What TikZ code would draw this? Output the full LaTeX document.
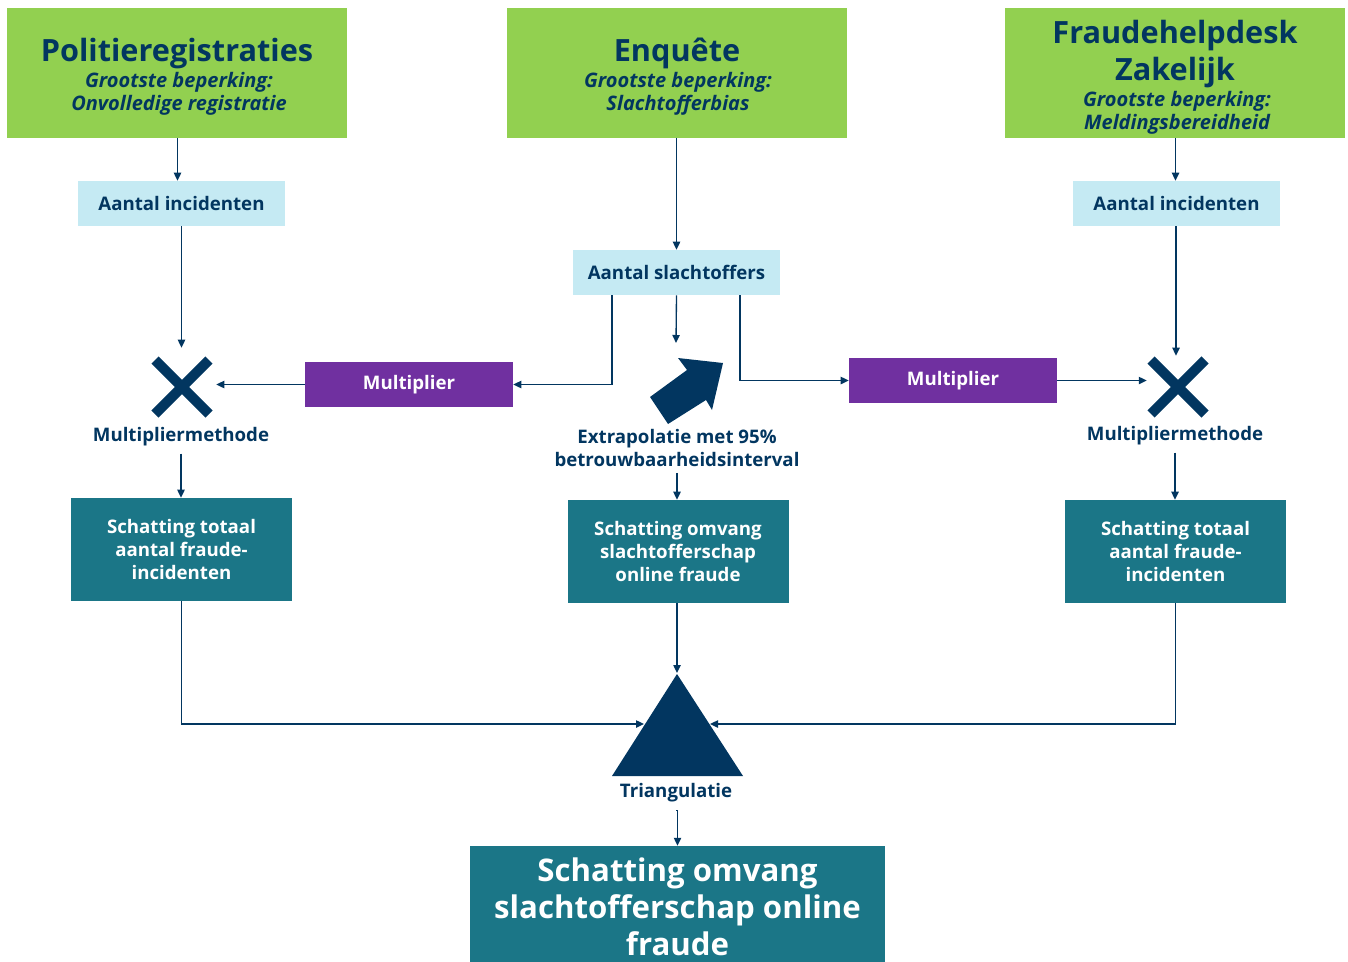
\documentclass[tikz,border=0pt]{standalone}
\usepackage{fontspec}
\setmainfont{Open Sans}
\usetikzlibrary{arrows.meta,calc}
\definecolor{navy}{RGB}{2,54,96}
\definecolor{lgreen}{RGB}{146,208,80}
\definecolor{lblue}{RGB}{197,234,243}
\definecolor{mpurple}{RGB}{112,48,160}
\definecolor{mteal}{RGB}{27,118,135}
\newcommand{\fs}[2]{\fontsize{#1}{#2}\selectfont}
\tikzset{
  greenbox/.style={fill=lgreen,draw=none,minimum width=255pt,minimum height=97.5pt,inner sep=0pt},
  bluebox/.style={fill=lblue,draw=none,minimum width=155.25pt,minimum height=33.75pt,inner sep=0pt,text=navy,font=\bfseries\fs{14}{16}},
  purplebox/.style={fill=mpurple,draw=none,minimum width=156pt,minimum height=33.75pt,inner sep=0pt,text=white,font=\bfseries\fs{14}{16}},
  tealbox/.style={fill=mteal,draw=none,minimum width=165.75pt,minimum height=77.25pt,inner sep=0pt,text=white,align=center,font=\bfseries\fs{14}{17.25}},
  titletext/.style={anchor=base,text=navy,font=\bfseries\fs{23}{27.75},inner sep=0pt},
  subtext/.style={anchor=base,text=navy,font=\bfseries\itshape\fs{15}{17},inner sep=0pt},
  labeltext/.style={text=navy,font=\bfseries\fs{14}{17.25},align=center,inner sep=0pt},
  arr/.style={draw=navy,line width=1pt,-{Triangle[length=6pt,width=5.5pt]}},
  xmark/.style={draw=navy,line width=7.5pt},
}
\begin{document}
\begin{tikzpicture}[x=0.75pt,y=-0.75pt]
\useasboundingbox (0,0) rectangle (1348,961);
% green source boxes
\node[greenbox] (g1) at (177,73) {};
\node[greenbox] (g2) at (677,73) {};
\node[greenbox] (g3) at (1175,73) {};
\node[titletext] (g1t) at (177,61) {Politieregistraties};
\node[subtext] (g1s1) at (179,87) {Grootste beperking:};
\node[subtext] (g1s2) at (179,110) {Onvolledige registratie};
\node[titletext] (g2t) at (677,61) {Enquête};
\node[subtext] (g2s1) at (678,87) {Grootste beperking:};
\node[subtext] (g2s2) at (678,110) {Slachtofferbias};
\node[titletext] (g3t1) at (1175,43) {Fraudehelpdesk};
\node[titletext] (g3t2) at (1175,80) {Zakelijk};
\node[subtext] (g3s1) at (1177,106) {Grootste beperking:};
\node[subtext] (g3s2) at (1177,129) {Meldingsbereidheid};
% light blue boxes
\node[bluebox] (lb1) at (181.5,203.5) {Aantal incidenten};
\node[bluebox] (lb2) at (676.5,272.5) {Aantal slachtoffers};
\node[bluebox] (lb3) at (1176.5,203.5) {Aantal incidenten};
% purple
\node[purplebox] (mp1) at (409,384.5) {Multiplier};
\node[purplebox] (mp2) at (953,380.5) {Multiplier};
% X marks
\node[minimum width=51pt,minimum height=58.5pt,inner sep=0pt] (xs1) at (182,387) {};
\draw[xmark] (155,360) -- (209,414) (209,360) -- (155,414);
\node[minimum width=46.5pt,minimum height=46.5pt,inner sep=0pt] (xs3) at (1178,387) {};
\draw[xmark] (1151,360) -- (1205,414) (1205,360) -- (1151,414);
\node[labeltext] (mm1) at (181,437) {Multipliermethode};
\node[labeltext] (mm3) at (1175,436) {Multipliermethode};
% big arrow
\fill[navy] (650,397) -- (687,370) -- (678,358) -- (723,363) -- (712,410) -- (706,400) -- (668,424) -- cycle;
\coordinate (bigarr) at (676,343);
\node[labeltext] (ex) at (677,448) {Extrapolatie met 95\%\\betrouwbaarheidsinterval};
% teal boxes
\node[tealbox] (t1) at (181.5,549.5) {Schatting totaal\\aantal fraude-\\incidenten};
\node[tealbox] (t2) at (678,551.5) {Schatting omvang\\slachtofferschap\\online fraude};
\node[tealbox] (t3) at (1175.5,551.5) {Schatting totaal\\aantal fraude-\\incidenten};
% triangle
\fill[navy] (677,674) -- (743,776) -- (612,776) -- cycle;
\coordinate (triA) at (677,673);
\coordinate (triL) at (644,724);
\coordinate (triR) at (710,724);
\node[labeltext] (tri) at (676,793) {Triangulatie};
% bottom box
\node[fill=mteal,minimum width=311.25pt,minimum height=91.5pt,inner sep=0pt] (bot) at (677.5,907) {};
\node[text=white,font=\bfseries\fs{23.4}{27.75},align=center,inner sep=0pt] (bott) at (677.5,907) {Schatting omvang\\slachtofferschap online\\fraude};
% connectors
\draw[arr] (g1.south -| lb1.north) ++(-4,0) coordinate (a1) -- (a1 |- lb1.north);
\draw[arr] (g2.south -| lb2.north) -- (lb2.north);
\draw[arr] (g3.south -| lb3.north) ++(-1,0) coordinate (a3) -- (a3 |- lb3.north);
\draw[arr] (lb1.south) -- (lb1.south |- xs1.north);
\draw[arr] (lb3.south) ++(-0.5,0) coordinate (b3) -- (b3 |- xs3.north);
\draw[arr] (mp1.west) -- (mp1.west -| xs1.east);
\draw[arr] (mp2.east) -- (mp2.east -| xs3.west);
\draw[arr] ($(lb2.south)+(-64.5,0)$) |- (mp1.east);
\draw[arr] ($(lb2.south)+(63.5,0)$) |- (mp2.west);
\draw[arr] (lb2.south) -- (bigarr);
\draw[arr] (mm1.south) ++(0,7) coordinate (m1) -- (m1 |- t1.north);
\draw[arr] (mm3.south) ++(0,7) coordinate (m3) -- (m3 |- t3.north);
\draw[arr] (ex.south) ++(0,6) coordinate (e1) -- (e1 |- t2.north);
\draw[arr] (t2.south -| triA) -- (triA);
\draw[arr] (t1.south) |- (triL);
\draw[arr] (t3.south) |- (triR);
\draw[arr] (tri.south) ++(0,8) coordinate (tr1) -- (tr1 -| bot.north) -- (bot.north);
\end{tikzpicture}
\end{document}
